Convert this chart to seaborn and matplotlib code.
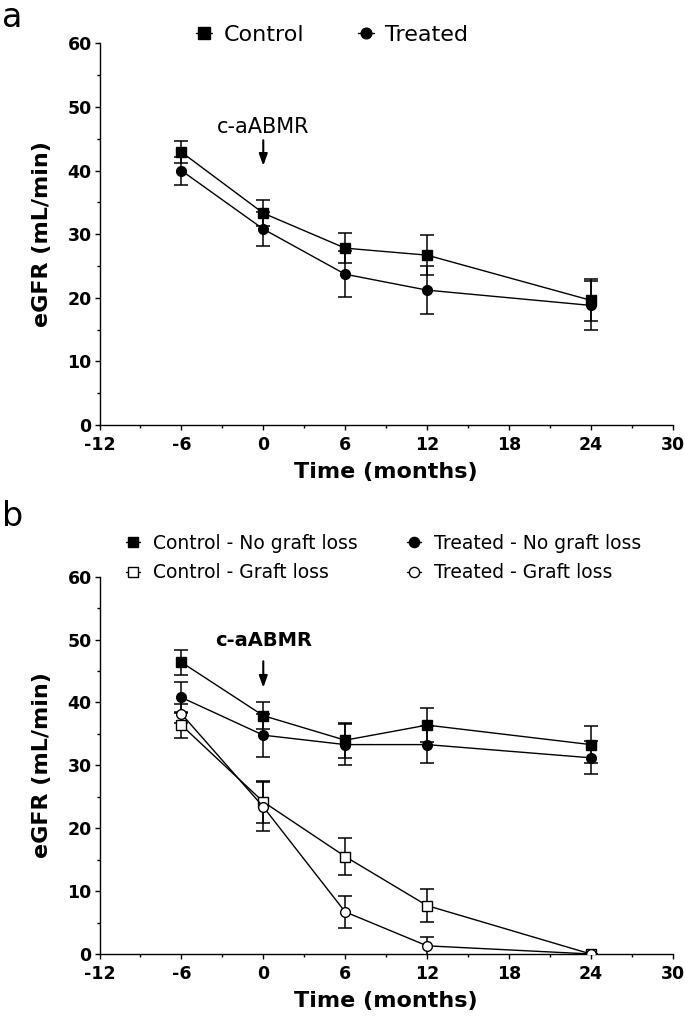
import matplotlib
matplotlib.use("Agg")
import matplotlib.pyplot as plt
from matplotlib.ticker import MultipleLocator
import seaborn as sns

sns.set_style("ticks")
plt.rcParams['font.family'] = ['DejaVu Sans']
plt.rcParams['axes.unicode_minus'] = False
for key in ['text.color', 'axes.labelcolor', 'xtick.color', 'ytick.color', 'axes.edgecolor']:
    plt.rcParams[key] = 'black'

# x positions (months)
months = [-6, 0, 6, 12, 24]

# panel a
ctrl_a = [42.9, 33.3, 27.8, 26.7, 19.6]
ctrl_a_sem = [1.7, 2.0, 2.4, 3.1, 3.3]
trt_a = [40.0, 30.8, 23.7, 21.2, 18.8]
trt_a_sem = [2.2, 2.7, 3.6, 3.8, 3.8]

# panel b
ctrl_ngl = [46.4, 37.9, 34.0, 36.4, 33.3]
ctrl_ngl_sem = [2.0, 2.1, 2.8, 2.7, 3.0]
trt_ngl = [40.8, 34.8, 33.3, 33.3, 31.2]
trt_ngl_sem = [2.5, 3.4, 3.3, 2.9, 2.6]
ctrl_gl = [36.4, 24.2, 15.5, 7.7, 0.0]
ctrl_gl_sem = [2.1, 3.3, 2.9, 2.6, 0.0]
trt_gl = [38.2, 23.4, 6.7, 1.3, 0.0]
trt_gl_sem = [1.5, 3.9, 2.6, 1.4, 0.0]

fig = plt.figure(figsize=(6.85, 10.23), dpi=100)
W, H = 685, 1023
ax_a = fig.add_axes([99.5 / W, 1 - 425 / H, 573.2 / W, 381.7 / H])
ax_b = fig.add_axes([99.5 / W, 1 - 954 / H, 573.2 / W, 377.3 / H])


def draw_series(ax, y, sem, marker, filled, label):
    mfc = 'black' if filled else 'white'
    sns.lineplot(x=months, y=y, ax=ax, color='black', lw=1.0, marker=marker,
                 markersize=7.2 if marker == 's' else 7.0, markerfacecolor=mfc,
                 markeredgecolor='black', markeredgewidth=1.0, label=label,
                 zorder=3)
    ax.errorbar(months, y, yerr=sem, fmt='none', ecolor='black', elinewidth=1.1,
                capsize=5, capthick=1.1, zorder=2)


def style_axis(ax):
    ax.set_xlim(-12, 30)
    ax.set_ylim(0, 60)
    ax.xaxis.set_major_locator(MultipleLocator(6))
    ax.xaxis.set_minor_locator(MultipleLocator(3))
    ax.yaxis.set_major_locator(MultipleLocator(10))
    ax.yaxis.set_minor_locator(MultipleLocator(5))
    ax.tick_params(which='major', length=3.6, width=1.0, labelsize=12.5)
    ax.tick_params(which='minor', length=2.4, width=1.0)
    ax.tick_params(axis='x', which='major', pad=4)
    ax.tick_params(axis='y', which='major', pad=2)
    for lbl in ax.get_xticklabels() + ax.get_yticklabels():
        lbl.set_fontweight('bold')
    for s in ['left', 'bottom']:
        ax.spines[s].set_linewidth(1.0)
    sns.despine(ax=ax)
    ax.set_xlabel('Time (months)', fontsize=16, fontweight='bold', labelpad=6)
    ax.set_ylabel('eGFR (mL/min)', fontsize=16, fontweight='bold', labelpad=11)


# panel a
draw_series(ax_a, ctrl_a, ctrl_a_sem, 's', True, 'Control')
draw_series(ax_a, trt_a, trt_a_sem, 'o', True, 'Treated')
style_axis(ax_a)
ax_a.legend(loc='center left', bbox_to_anchor=(0.168, 1.022), ncol=2, frameon=False,
            fontsize=16, handlelength=0.75, handletextpad=0.5, columnspacing=2.4,
            borderaxespad=0, borderpad=0, markerscale=1.1)
ax_a.annotate('', xy=(0, 40.3), xytext=(0, 45.2),
              arrowprops=dict(arrowstyle='-|>,head_length=0.7,head_width=0.25',
                              color='black', lw=1.5))
ax_a.text(0, 46.9, 'c-aABMR', ha='center', va='center', fontsize=15)

# panel b
draw_series(ax_b, ctrl_ngl, ctrl_ngl_sem, 's', True, 'Control - No graft loss')
draw_series(ax_b, ctrl_gl, ctrl_gl_sem, 's', False, 'Control - Graft loss')
draw_series(ax_b, trt_ngl, trt_ngl_sem, 'o', True, 'Treated - No graft loss')
draw_series(ax_b, trt_gl, trt_gl_sem, 'o', False, 'Treated - Graft loss')
style_axis(ax_b)
ax_b.legend(loc='center left', bbox_to_anchor=(0.046, 1.049), ncol=2, frameon=False,
            fontsize=13.5, handlelength=0.75, handletextpad=0.7, columnspacing=2.6,
            labelspacing=0.55, borderaxespad=0, borderpad=0, markerscale=1.05)
ax_b.annotate('', xy=(0, 41.9), xytext=(0, 47.0),
              arrowprops=dict(arrowstyle='-|>,head_length=0.7,head_width=0.25',
                              color='black', lw=1.5))
ax_b.text(0, 49.8, 'c-aABMR', ha='center', va='center', fontsize=14,
          fontweight='bold')

fig.text(2 / W, 1 - 1 / H, 'a', fontsize=24, va='top', ha='left')
fig.text(2 / W, 1 - 500 / H, 'b', fontsize=24, va='top', ha='left')

plt.savefig('out.png', dpi=100)
plt.close()
